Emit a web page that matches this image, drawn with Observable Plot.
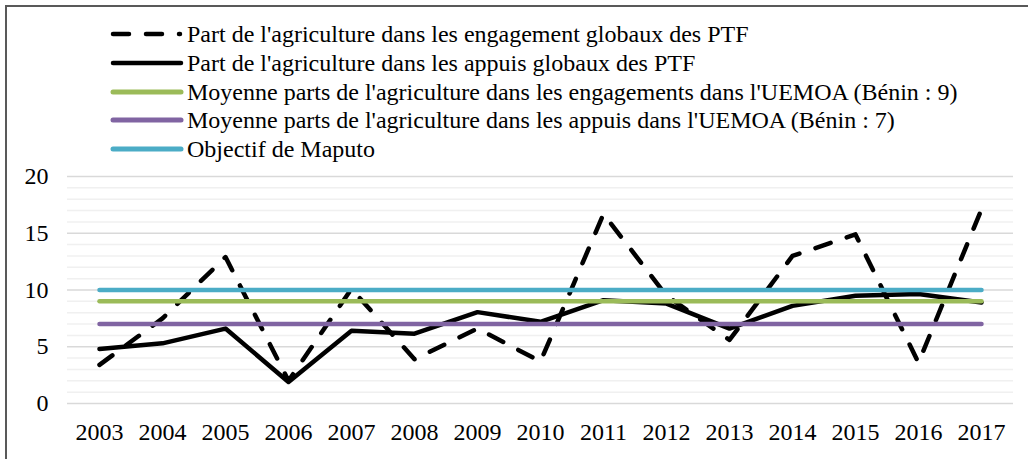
<!DOCTYPE html>
<html>
<head>
<meta charset="utf-8">
<script src="https://cdn.jsdelivr.net/npm/d3@7"></script>
<script src="https://cdn.jsdelivr.net/npm/@observablehq/plot@0.6"></script>
<style>
  html, body { margin: 0; padding: 0; background: #fff; }
  #wrap { position: relative; width: 1028px; height: 459px; overflow: hidden; font-family: "Liberation Serif", serif; }
  #frame { position: absolute; left: 5px; top: 5px; width: 1030px; height: 460px; border-left: 2px solid #595959; border-top: 2px solid #595959; pointer-events: none; }
  #legend { position: absolute; left: 0; top: 0; }
  .row { position: absolute; left: 110px; height: 28px; display: flex; align-items: center; white-space: nowrap; font-size: 24px; color: #000; font-family: "Liberation Serif", serif; }
  .row svg { display: block; margin-right: 3px; }
  #chart { position: absolute; left: 0; top: 0; }
  #chart svg text { font-family: "Liberation Serif", serif; }
</style>
</head>
<body>
<div id="wrap">
  <div id="chart"></div>
  <div id="legend"></div>
  <div id="frame"></div>
</div>
<script>
const years = [2003, 2004, 2005, 2006, 2007, 2008, 2009, 2010, 2011, 2012, 2013, 2014, 2015, 2016, 2017];
const engagements = [3.4, 7.5, 12.9, 2.0, 10.1, 3.9, 6.6, 3.7, 16.7, 9.5, 5.6, 13.0, 14.9, 3.6, 17.1];
const appuis = [4.8, 5.3, 6.6, 1.9, 6.4, 6.15, 8.05, 7.2, 9.1, 8.8, 6.6, 8.6, 9.5, 9.65, 8.9];
const moyenneEngagements = 9;
const moyenneAppuis = 7;
const objectifMaputo = 10;
const yTicks = [0, 5, 10, 15, 20];
const minorTicks = d3.range(0, 21).filter(v => v % 5 !== 0);

const seriesNames = [
  "Part de l'agriculture dans les engagement globaux des PTF",
  "Part de l'agriculture dans les appuis globaux des PTF",
  "Moyenne parts de l'agriculture dans les engagements dans l'UEMOA (Bénin : 9)",
  "Moyenne parts de l'agriculture dans les appuis dans l'UEMOA (Bénin : 7)",
  "Objectif de Maputo"
];
const seriesColors = ["#000000", "#000000", "#9BBB59", "#8064A2", "#4BACC6"];
const seriesDash = ["16,17", null, null, null, null];

const engData = years.map((y, i) => ({year: y, value: engagements[i]}));
const appData = years.map((y, i) => ({year: y, value: appuis[i]}));
const constData = (v) => years.map(y => ({year: y, value: v}));

const serif = "'Liberation Serif', serif";
const chart = Plot.plot({
  width: 1028,
  height: 459,
  marginTop: 176,
  marginBottom: 56,
  marginLeft: 67,
  marginRight: 15,
  style: {fontFamily: serif, fontSize: "24px", color: "#000", background: "transparent"},
  x: {type: "point", domain: years, padding: 0.5, label: null},
  y: {domain: [0, 20], label: null},
  marks: [
    Plot.ruleY(minorTicks, {stroke: "#f0f0f0", strokeWidth: 1.5}),
    Plot.ruleY(yTicks, {stroke: "#d9d9d9", strokeWidth: 1.5}),
    Plot.axisY(yTicks, {tickSize: 0, tickPadding: 19, fontSize: 24, label: null}),
    Plot.axisX(years, {tickSize: 0, tickPadding: 19, fontSize: 24, label: null, tickFormat: d => String(d)}),
    Plot.line(engData, {x: "year", y: "value", stroke: seriesColors[0], strokeWidth: 4.5, strokeDasharray: seriesDash[0], strokeLinecap: "round", strokeLinejoin: "round"}),
    Plot.line(appData, {x: "year", y: "value", stroke: seriesColors[1], strokeWidth: 4.5, strokeLinecap: "round", strokeLinejoin: "round"}),
    Plot.line(constData(moyenneEngagements), {x: "year", y: "value", stroke: seriesColors[2], strokeWidth: 4.5, strokeLinecap: "round"}),
    Plot.line(constData(moyenneAppuis), {x: "year", y: "value", stroke: seriesColors[3], strokeWidth: 4.5, strokeLinecap: "round"}),
    Plot.line(constData(objectifMaputo), {x: "year", y: "value", stroke: seriesColors[4], strokeWidth: 4.5, strokeLinecap: "round"})
  ]
});
document.getElementById("chart").appendChild(chart);

const rowCenters = [34, 63, 92, 120, 149];
const legend = document.getElementById("legend");
seriesNames.forEach((name, i) => {
  const row = document.createElement("div");
  row.className = "row";
  row.style.top = (rowCenters[i] - 14) + "px";
  const line = seriesDash[i]
    ? `<line x1="3" y1="5" x2="70" y2="5" stroke="${seriesColors[i]}" stroke-width="4.5" stroke-linecap="round" stroke-dasharray="${seriesDash[i]}"/>`
    : `<line x1="3" y1="5" x2="71" y2="5" stroke="${seriesColors[i]}" stroke-width="${i < 2 ? 4.5 : 5}" stroke-linecap="round"/>`;
  row.innerHTML = `<svg width="74" height="10">${line}</svg><span>${name}</span>`;
  legend.appendChild(row);
});
</script>
</body>
</html>
